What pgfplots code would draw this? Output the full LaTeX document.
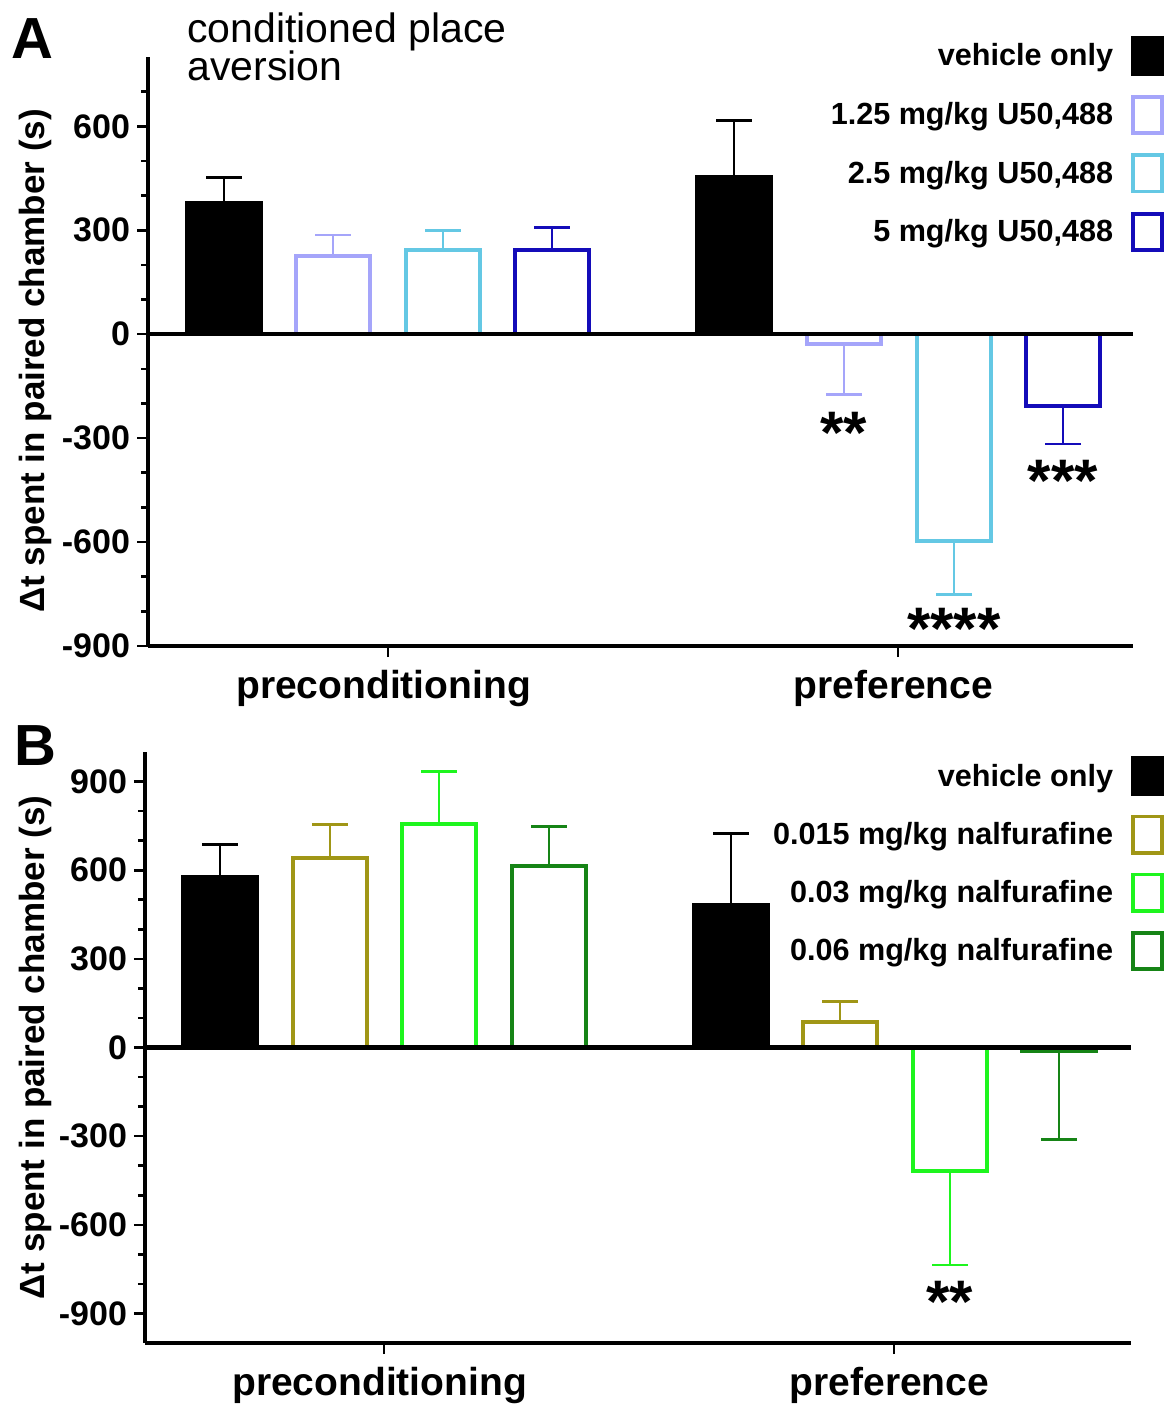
\documentclass[border=0pt]{standalone}
\usepackage{fontspec}
\setmainfont{Liberation Sans}
\usepackage{pgfplots}
\pgfplotsset{compat=1.18}

\definecolor{lav}{RGB}{165,165,250}
\definecolor{sky}{RGB}{100,200,228}
\definecolor{dblue}{RGB}{20,12,185}
\definecolor{olv}{RGB}{160,150,22}
\definecolor{lgreen}{RGB}{30,245,30}
\definecolor{dgreen}{RGB}{22,132,22}

\tikzset{stars/.style={font=\fontsize{30}{30}\selectfont\bfseries}}

\pgfplotsset{
  panel/.style={
    scale only axis, clip=false,
    axis x line*=bottom, axis y line*=left,
    axis line style={line width=2.2pt},
    tick align=outside,
    tick style={black, line width=1.3pt},
    major tick length=5.5pt, minor tick length=3.5pt,
    yticklabel style={font=\fontsize{17}{17}\selectfont\bfseries},
    xticklabel style={font=\fontsize{19.5}{19.5}\selectfont\bfseries, yshift=-3pt, xshift=-2.25pt},
    ylabel={Δt spent in paired chamber (s)},
    ylabel style={font=\fontsize{17.5}{17.5}\selectfont\bfseries, anchor=center},
    xticklabels={preconditioning, preference},
    legend plot pos=right,
    legend cell align=right,
    legend style={draw=none, fill=none, inner sep=0pt, column sep=7pt,
      font=\fontsize{15.3}{15.3}\selectfont\bfseries},
  },
  mybar/.style={ybar, bar width=74, bar shift=0pt, line width=2pt, draw=#1,
    error bars/y dir=both, error bars/y explicit,
    error bars/error bar style={line width=1.35pt, draw=#1},
    error bars/error mark options={rotate=90, mark size=9pt, line width=1.35pt, draw=#1}},
  boxleg/.style={legend image code/.code={\draw[##1, line width=1.9pt] (0.95pt,-9.05pt) rectangle (15.55pt,9.05pt);}},
}

\begin{document}
\begin{tikzpicture}
\useasboundingbox (0,0) rectangle (583.5pt,-702pt);

% panel A
\node[anchor=base west, font=\fontsize{29}{29}\selectfont\bfseries, inner sep=0pt] at (5.5pt,-29pt) {A};
\node[anchor=base west, font=\fontsize{20.5}{20.5}\selectfont, inner sep=0pt] at (93.5pt,-21pt) {conditioned place};
\node[anchor=base west, font=\fontsize{20.5}{20.5}\selectfont, inner sep=0pt] at (93.5pt,-40pt) {aversion};

\begin{axis}[panel, at={(74pt,-323pt)}, anchor=south west,
  width=492.5pt, height=294.5pt,
  xmin=148, xmax=1133, ymin=-900, ymax=800,
  xtick={388,898},
  ytick={-900,-600,...,600}, yticklabels={-900,-600,-300,0,300,600},
  minor ytick={-800,-700,-500,-400,-200,-100,100,200,400,500,700},
  ylabel style={at={(axis description cs:-0.1147,0.484)}},
  legend style={at={(axis description cs:1.032,1.036)}, anchor=north east, row sep=9.3pt}]

\addplot[mybar=black, boxleg, fill=black] coordinates {
  (224,380) += (0,72) -= (0,0)
  (734,454) += (0,163) -= (0,0)};
\addlegendentry{vehicle only}
\addplot[mybar=lav, boxleg, fill=white] coordinates {
  (333,226) += (0,60) -= (0,0)
  (844,-27) += (0,0) -= (0,148)};
\addlegendentry{1.25 mg/kg U50,488}
\addplot[mybar=sky, boxleg, fill=white] coordinates {
  (443,242) += (0,58) -= (0,0)
  (954,-596) += (0,0) -= (0,156)};
\addlegendentry{2.5 mg/kg U50,488}
\addplot[mybar=dblue, boxleg, fill=white] coordinates {
  (552,242) += (0,66) -= (0,0)
  (1063,-207) += (0,0) -= (0,110)};
\addlegendentry{5 mg/kg U50,488}

\addplot[black, line width=2.2pt, forget plot] coordinates {(148,0) (1133,0)};

\node[stars] at (axis cs:844,-286) {**};
\node[stars] at (axis cs:1063,-422) {***};
\node[stars] at (axis cs:954,-851) {****};
\end{axis}

% panel B
\node[anchor=base west, font=\fontsize{29}{29}\selectfont\bfseries, inner sep=0pt] at (7pt,-382.5pt) {B};

\begin{axis}[panel, at={(72.5pt,-671.5pt)}, anchor=south west,
  width=493pt, height=295.5pt,
  xmin=145, xmax=1131, ymin=-1000, ymax=1000,
  xtick={384,894},
  ytick={-900,-600,...,900}, yticklabels={-900,-600,-300,0,300,600,900},
  minor ytick={-800,-700,-500,-400,-200,-100,100,200,400,500,700,800},
  ylabel style={at={(axis description cs:-0.1116,0.5)}},
  legend style={at={(axis description cs:1.034,0.9932)}, anchor=north east, row sep=9.05pt}]

\addplot[mybar=black, boxleg, fill=black] coordinates {
  (220,577) += (0,110) -= (0,0)
  (731,481) += (0,244) -= (0,0)};
\addlegendentry{vehicle only}
\addplot[mybar=olv, boxleg, fill=white] coordinates {
  (330,642) += (0,113) -= (0,0)
  (840,85) += (0,71) -= (0,0)};
\addlegendentry{0.015 mg/kg nalfurafine}
\addplot[mybar=lgreen, boxleg, fill=white] coordinates {
  (439,758) += (0,176) -= (0,0)
  (950,-417) += (0,0) -= (0,319)};
\addlegendentry{0.03 mg/kg nalfurafine}
\addplot[mybar=dgreen, boxleg, fill=white] coordinates {
  (549,614) += (0,133) -= (0,0)
  (1059,-11) += (0,0) -= (0,300)};
\addlegendentry{0.06 mg/kg nalfurafine}

\addplot[black, line width=2.2pt, forget plot] coordinates {(145,0) (1131,0)};

\node[stars] at (axis cs:950,-862) {**};
\end{axis}
\end{tikzpicture}
\end{document}
